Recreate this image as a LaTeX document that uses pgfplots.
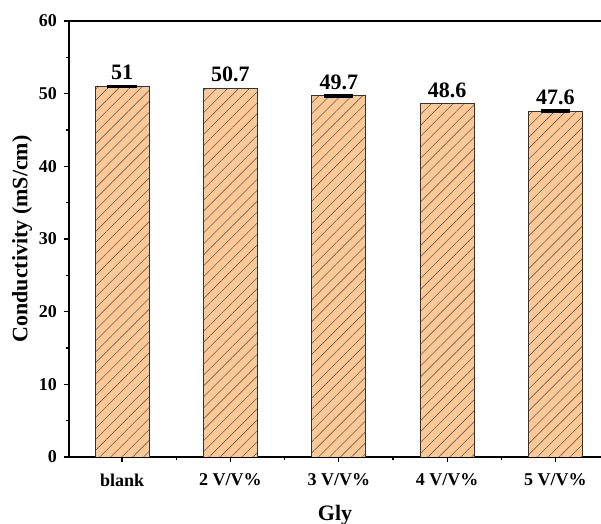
\documentclass[border=0pt]{standalone}
\usepackage{pgfplots}
\pgfplotsset{compat=1.18}
\usepackage{fontspec}
\setmainfont{Liberation Serif}
\usetikzlibrary{patterns.meta}

\definecolor{barfill}{RGB}{252,200,150}
\definecolor{hatch}{RGB}{110,95,85}

% conductivity values and their standard errors
\pgfplotstableread{
x  y     err
0  51.0  0.1
1  50.7  0.0
2  49.7  0.1
3  48.6  0.0
4  47.6  0.1
}\conddata

\begin{document}
\begin{tikzpicture}
\useasboundingbox (-51.75pt,-50.25pt) rectangle (399pt,342.75pt);
\begin{axis}[
  scale only axis,
  width=399pt, height=327pt,
  xmin=-0.49, xmax=4.42,
  ymin=0, ymax=60,
  axis x line*=box,
  axis y line*=left,
  xtick pos=bottom,
  ytick pos=left,
  axis line style={line width=1.1pt, black},
  tick style={line width=0.9pt, black},
  tick align=outside,
  major tick length=4pt,
  minor tick length=2.5pt,
  xtick={0,1,2,3,4},
  minor xtick={0.5,1.5,2.5,3.5},
  xticklabels={blank,2 V/V\%,3 V/V\%,4 V/V\%,5 V/V\%},
  ytick={0,10,...,60},
  minor y tick num=1,
  /pgf/number format/assume math mode=true,
  ticklabel style={font=\bfseries\fontsize{13.5}{16}\selectfont},
  xticklabel style={yshift=-5pt},
  yticklabel style={xshift=-1.5pt},
  xlabel={Gly},
  ylabel={Conductivity (mS/cm)},
  label style={font=\bfseries\fontsize{16.5}{19}\selectfont},
  xlabel style={at={(axis description cs:0.5,-0.133)}, anchor=center},
  ylabel style={at={(axis description cs:-0.0883,0.5)}, anchor=center},
]
\addplot[
  ybar, bar width=0.5,
  fill=barfill, draw=black!80, line width=0.7pt,
  postaction={pattern={Lines[angle=45,distance=5.8pt,line width=0.45pt]}, pattern color=hatch},
  nodes near coords,
  point meta=y,
  every node near coord/.append style={
    font=\bfseries\fontsize{16.5}{19}\selectfont,
    inner sep=0pt, anchor=south, yshift=4.5pt, text=black},
] table[x=x, y=y] {\conddata};
% error caps only where a deviation was recorded
\addplot[
  draw=none, mark=none, forget plot,
  error bars/.cd,
    y dir=both, y explicit,
    error bar style={draw=black, solid, line width=0.6pt},
    error mark options={draw=black, solid, rotate=90, mark size=11pt, line width=1.6pt},
] coordinates {
  (0,51.0) +- (0,0.1)
  (2,49.7) +- (0,0.1)
  (4,47.6) +- (0,0.1)
};
\end{axis}
\end{tikzpicture}
\end{document}
